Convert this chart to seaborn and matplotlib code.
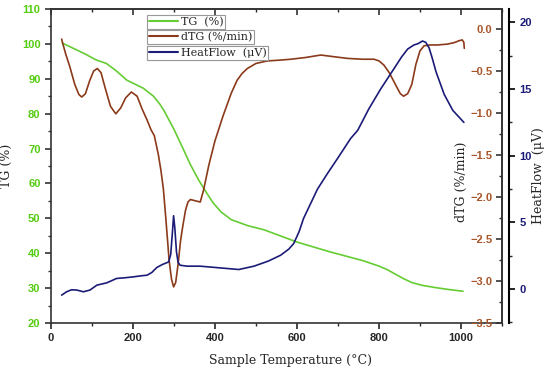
import numpy as np
import pandas as pd
import matplotlib
matplotlib.use("Agg")
import matplotlib.pyplot as plt
import seaborn as sns
from matplotlib.ticker import MultipleLocator
from matplotlib.lines import Line2D

# TG (%)
tg_temp = [28, 55, 85, 110, 135, 160, 185, 225, 250, 265, 275, 300, 320, 340, 360,
           380, 395, 415, 440, 480, 520, 600, 680, 760, 800, 820, 840, 860, 880, 905, 935, 970, 1005]
tg_val = [100.2, 98.7, 97.0, 95.4, 94.4, 92.2, 89.6, 87.3, 85.0, 82.8, 81.0, 75.5, 70.5, 65.4, 61.0,
          57.2, 54.5, 51.8, 49.6, 47.9, 46.7, 43.2, 40.4, 37.9, 36.3, 35.3, 34.0, 32.7, 31.6, 30.8, 30.2, 29.6, 29.1]

# dTG (%/min)
dtg_temp = [26, 28, 36, 46, 58, 68, 75, 84, 94, 104, 113, 122, 132, 145, 158, 170, 182, 196, 210,
            222, 234, 244, 252, 262, 268, 274, 280, 288, 294, 299, 304, 310, 316, 322, 328, 334,
            340, 348, 356, 364, 372, 385, 400, 420, 440, 454, 466, 479, 500, 528, 560, 585, 620,
            658, 690, 723, 760, 788, 800, 812, 825, 840, 852, 860, 870, 880, 890, 900, 910, 925,
            943, 967, 985, 995, 1003, 1007, 1008]
dtg_val = [-0.12, -0.16, -0.30, -0.45, -0.66, -0.78, -0.81, -0.77, -0.62, -0.50, -0.47, -0.52, -0.70, -0.92, -1.01,
           -0.94, -0.82, -0.75, -0.80, -0.95, -1.08, -1.20, -1.27, -1.50, -1.68, -1.90, -2.25, -2.75, -2.98, -3.07, -3.02,
           -2.80, -2.52, -2.33, -2.16, -2.06, -2.03, -2.04, -2.05, -2.06, -1.92, -1.62, -1.33, -1.03, -0.76, -0.61,
           -0.53, -0.47, -0.41, -0.38, -0.37, -0.36, -0.34, -0.31, -0.33, -0.35, -0.36, -0.36, -0.38, -0.43,
           -0.52, -0.66, -0.77, -0.80, -0.77, -0.66, -0.42, -0.26, -0.20, -0.19, -0.19, -0.18, -0.16, -0.14,
           -0.13, -0.16, -0.23]

# HeatFlow (uV)
hf_temp = [26, 38, 50, 63, 79, 95, 112, 136, 160, 180, 201, 220, 234, 246, 258, 272, 287, 292, 296, 299,
           302, 306, 310, 315, 332, 364, 413, 458, 495, 530, 560, 580, 592, 605, 616, 633, 650, 675, 699,
           731, 748, 775, 804, 836, 855, 870, 885, 895, 906, 914, 922, 930, 939, 959, 980, 1007]
hf_val = [-0.45, -0.2, -0.05, -0.07, -0.2, -0.07, 0.3, 0.47, 0.8, 0.85, 0.92, 1.0, 1.04, 1.25, 1.62, 1.85, 2.04, 2.6, 4.2, 5.5,
          4.6, 2.8, 2.0, 1.79, 1.72, 1.72, 1.59, 1.47, 1.72, 2.1, 2.54, 3.0, 3.42, 4.3, 5.3, 6.4, 7.5, 8.7, 9.8,
          11.3, 11.9, 13.5, 15.0, 16.5, 17.4, 18.0, 18.3, 18.4, 18.6, 18.5, 18.1, 17.3, 16.3, 14.6, 13.4, 12.5]

tg_df = pd.DataFrame({"T": tg_temp, "v": tg_val})
dtg_df = pd.DataFrame({"T": dtg_temp, "v": dtg_val})
hf_df = pd.DataFrame({"T": hf_temp, "v": hf_val})

sns.set_style("ticks")
plt.rcParams['font.family'] = ['DejaVu Serif']

c_tg = "#66cc33"
c_dtg = "#8b3a1a"
c_hf = "#1c1c78"
c_tg_lab = "#55cc11"
c_dtg_lab = "#a8552a"

fig = plt.figure(figsize=(5.5, 3.73), dpi=100)
ax = fig.add_axes([51/550, 1-323/373, 451/550, 314/373])
ax2 = ax.twinx()
ax3 = ax.twinx()

sns.lineplot(data=tg_df, x="T", y="v", ax=ax, color=c_tg, lw=1.2, sort=False)
sns.lineplot(data=dtg_df, x="T", y="v", ax=ax2, color=c_dtg, lw=1.2, sort=False)
sns.lineplot(data=hf_df, x="T", y="v", ax=ax3, color=c_hf, lw=1.2, sort=False)

tick_font = {'family': 'Liberation Sans', 'weight': 'bold', 'size': 8}

ax.set_xlim(0, 1100)
ax.set_ylim(20, 110)
ax.xaxis.set_major_locator(MultipleLocator(200))
ax.xaxis.set_minor_locator(MultipleLocator(100))
ax.yaxis.set_major_locator(MultipleLocator(10))
ax.yaxis.set_minor_locator(MultipleLocator(5))
ax.tick_params(axis='x', which='major', direction='out', length=4, width=1.2)
ax.tick_params(axis='x', which='minor', direction='out', length=2.5, width=1.0)
ax.tick_params(axis='y', which='major', direction='out', length=4, width=1.2, colors='#333333')
ax.tick_params(axis='y', which='minor', direction='out', length=2.5, width=1.0, colors='#333333')
for lab in ax.get_xticklabels():
    lab.set_fontproperties(tick_font)
for lab in ax.get_yticklabels():
    lab.set_fontproperties(tick_font)
    lab.set_color(c_tg_lab)

# top ticks point into the plot
top = ax.secondary_xaxis('top')
top.xaxis.set_major_locator(MultipleLocator(200))
top.xaxis.set_minor_locator(MultipleLocator(100))
top.tick_params(axis='x', which='major', direction='in', length=4, width=1.2, labeltop=False, colors='#333333')
top.tick_params(axis='x', which='minor', direction='in', length=2.5, width=1.0)
top.spines['top'].set_linewidth(1.2)
top.spines['top'].set_color('#333333')

ax.set_xlabel("Sample Temperature (°C)", fontsize=9)
ax.set_ylabel("TG (%)", fontsize=9)
ax.xaxis.set_label_coords(0.53, -0.1)
ax.yaxis.set_label_coords(-0.085, 0.5)

ax2.set_ylim(-3.5, 0.238)
ax2.yaxis.set_major_locator(MultipleLocator(0.5))
ax2.yaxis.set_minor_locator(MultipleLocator(0.25))
ax2.tick_params(axis='y', which='major', direction='in', length=4, width=1.2, pad=-7, colors='#333333')
ax2.tick_params(axis='y', which='minor', direction='in', length=2.5, width=1.0)
ax2.set_yticks(np.arange(-3.5, 0.01, 0.5))
for lab in ax2.get_yticklabels():
    lab.set_fontproperties(tick_font)
    lab.set_color(c_dtg_lab)
    lab.set_ha('right')
ax2.set_ylabel("dTG (%/min)", fontsize=9)
ax2.yaxis.set_label_coords(0.895, 0.45)

ax3.set_ylim(-2.54, 21.0)
ax3.spines['right'].set_position(('axes', (509-51)/451))
ax3.yaxis.set_major_locator(MultipleLocator(5))
ax3.yaxis.set_minor_locator(MultipleLocator(2.5))
ax3.set_yticks([0, 5, 10, 15, 20])
ax3.tick_params(axis='y', which='major', direction='out', length=4, width=1.2, colors='black')
ax3.tick_params(axis='y', which='minor', direction='out', length=2.5, width=1.0)
for lab in ax3.get_yticklabels():
    lab.set_fontproperties(tick_font)
    lab.set_color(c_hf)
ax3.set_ylabel("HeatFlow  (μV)", fontsize=9)
ax3.yaxis.set_label_coords((532-51)/451, 0.47)

for a in (ax2, ax3):
    a.spines['left'].set_visible(False)
    a.spines['top'].set_visible(False)
    a.spines['bottom'].set_visible(False)
    a.set_xlabel("")
for s in ax.spines.values():
    s.set_linewidth(1.2)
    s.set_color('#333333')
ax2.spines['right'].set_linewidth(1.2)
ax2.spines['right'].set_color('#333333')
ax3.spines['right'].set_linewidth(1.5)
ax3.spines['right'].set_color('black')

# stacked legend boxes, one per series
entries = [("TG  (%)", c_tg, 15), ("dTG (%/min)", c_dtg, 30), ("HeatFlow  (μV)", c_hf, 46)]
for text, col, ytop in entries:
    h = Line2D([], [], color=col, lw=1.5)
    leg = ax3.legend([h], [text], loc='upper left', bbox_to_anchor=(147/550, 1-ytop/373),
                     bbox_transform=fig.transFigure, frameon=True, fancybox=False,
                     edgecolor='#999999', framealpha=1, fontsize=8, borderpad=0.15,
                     handlelength=2.6, handletextpad=0.3, borderaxespad=0)
    leg.get_frame().set_linewidth(0.8)
    ax3.add_artist(leg)

fig.savefig("out.png", dpi=100)
